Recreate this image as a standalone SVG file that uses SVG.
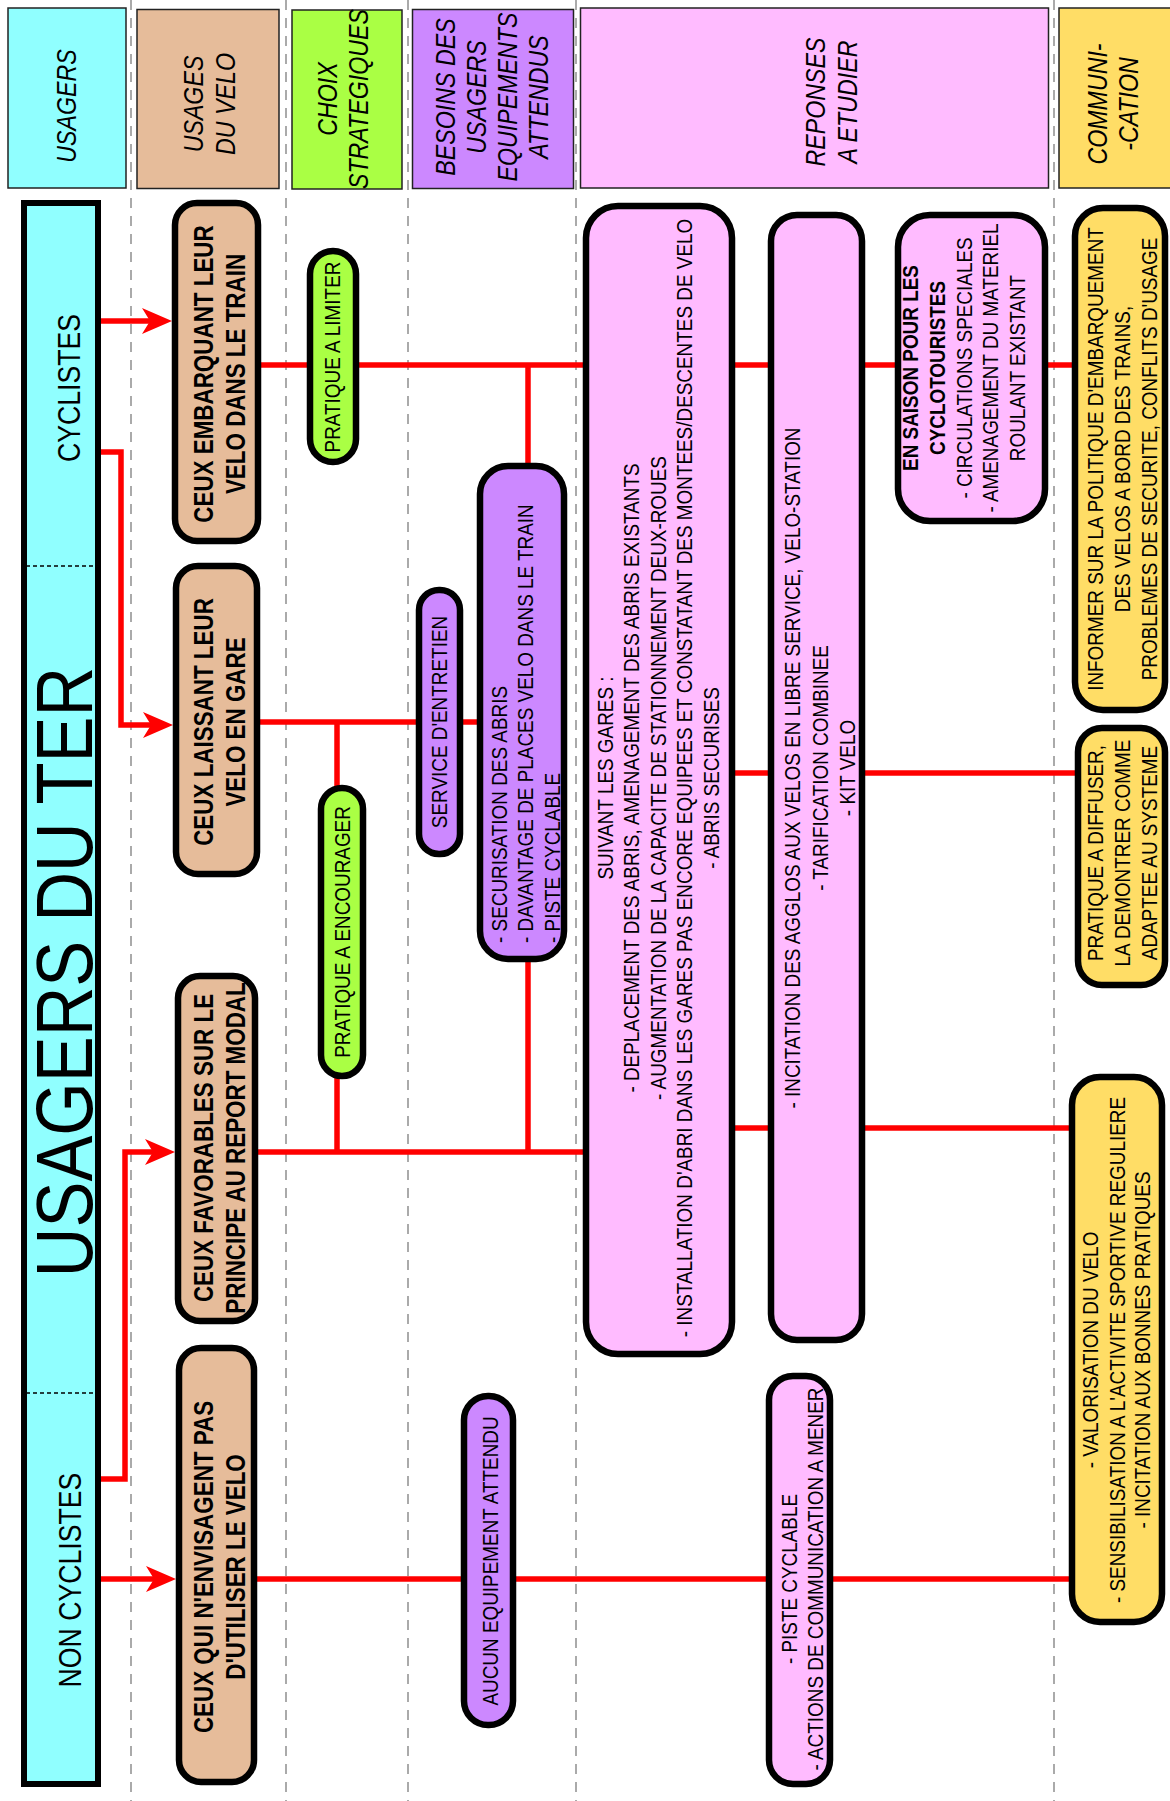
<svg xmlns="http://www.w3.org/2000/svg" width="1170" height="1801" viewBox="0 0 1170 1801">
<style>
text{font-family:"Liberation Sans",Arial,sans-serif;fill:#000}
.hd{font-size:27px;font-style:italic}
.nb{font-size:27px;font-weight:bold}
.nr{font-size:22px}
.side{font-size:31px}
.hbox{stroke:#222;stroke-width:1.5}
.node{stroke:#000;stroke-width:6.5}
.sep{stroke:#aaa;stroke-width:2;stroke-dasharray:10 8;fill:none}
.con{stroke:#f00;stroke-width:5.5;fill:none}
.cyan{fill:#90ffff}.tan{fill:#e6bc9a}.green{fill:#aaff44}.purple{fill:#cc88ff}.pink{fill:#ffbbff}.yellow{fill:#ffdd66}
</style>
<defs>
<marker id="arr" markerUnits="userSpaceOnUse" markerWidth="30" markerHeight="28" viewBox="0 0 30 28" refX="8" refY="14" orient="auto">
<path d="M0,1 L30,14 L0,27 L8,14 Z" fill="#f00"/>
</marker>
</defs>
<rect width="1170" height="1801" fill="#fff"/>
<g id="separators">
<line class="sep" x1="131" y1="0" x2="131" y2="1801"/>
<line class="sep" x1="286" y1="0" x2="286" y2="1801"/>
<line class="sep" x1="408" y1="0" x2="408" y2="1801"/>
<line class="sep" x1="576" y1="0" x2="576" y2="1801"/>
<line class="sep" x1="1054" y1="0" x2="1054" y2="1801"/>
</g>
<g id="headers">
<g id="h-usagers"><rect class="hbox cyan" x="8" y="8" width="118" height="180"/>
<g transform="translate(0,106) rotate(-90) scale(0.86,1)"><text class="hd" text-anchor="middle"><tspan x="0" y="76">USAGERS</tspan></text></g></g>
<g id="h-usages"><rect class="hbox tan" x="137" y="9.5" width="142" height="179"/>
<g transform="translate(0,104) rotate(-90) scale(0.86,1)"><text class="hd" text-anchor="middle"><tspan x="0" y="203">USAGES</tspan><tspan x="0" y="235">DU VELO</tspan></text></g></g>
<g id="h-choix"><rect class="hbox green" x="292" y="10" width="110" height="179"/>
<g transform="translate(0,99) rotate(-90) scale(0.86,1)"><text class="hd" text-anchor="middle"><tspan x="0" y="337">CHOIX</tspan><tspan x="0" y="368">STRATEGIQUES</tspan></text></g></g>
<g id="h-besoins"><rect class="hbox purple" x="412.5" y="9.5" width="161" height="179"/>
<g transform="translate(0,97) rotate(-90) scale(0.86,1)"><text class="hd" text-anchor="middle"><tspan x="0" y="455">BESOINS DES</tspan><tspan x="0" y="486">USAGERS</tspan><tspan x="0" y="517">EQUIPEMENTS</tspan><tspan x="0" y="548">ATTENDUS</tspan></text></g></g>
<g id="h-reponses"><rect class="hbox pink" x="580.5" y="8" width="468" height="180"/>
<g transform="translate(0,102) rotate(-90) scale(0.86,1)"><text class="hd" text-anchor="middle"><tspan x="0" y="825">REPONSES</tspan><tspan x="0" y="857">A ETUDIER</tspan></text></g></g>
<g id="h-communication"><rect class="hbox yellow" x="1059" y="8" width="120" height="180"/>
<g transform="translate(0,104) rotate(-90) scale(0.86,1)"><text class="hd" text-anchor="middle"><tspan x="0" y="1107">COMMUNI-</tspan><tspan x="0" y="1138">-CATION</tspan></text></g></g>
</g>
<g id="usagers-ter">
<rect class="cyan" x="24" y="203" width="74" height="1581" stroke="#000" stroke-width="6"/>
<line x1="26" y1="566" x2="95" y2="566" stroke="#000" stroke-width="1.5" stroke-dasharray="4 3"/>
<line x1="26" y1="1393" x2="95" y2="1393" stroke="#000" stroke-width="1.5" stroke-dasharray="4 3"/>
<g transform="translate(0,388) rotate(-90) scale(0.86,1)"><text class="side" text-anchor="middle"><tspan x="0" y="80">CYCLISTES</tspan></text></g>
<g transform="translate(0,972) rotate(-90) scale(0.86,1)"><text text-anchor="middle" font-size="80"><tspan x="0" y="92">USAGERS DU TER</tspan></text></g>
<g transform="translate(0,1580) rotate(-90) scale(0.86,1)"><text class="side" text-anchor="middle"><tspan x="0" y="81">NON CYCLISTES</tspan></text></g>
</g>
<g id="connectors">
<path class="con" d="M101,321 H150" marker-end="url(#arr)"/>
<path class="con" d="M101,452 H121 V725 H151" marker-end="url(#arr)"/>
<path class="con" d="M101,1479 H125 V1152 H153" marker-end="url(#arr)"/>
<path class="con" d="M101,1579 H154" marker-end="url(#arr)"/>
<path class="con" d="M261,365 H1072"/>
<path class="con" d="M528,365 V1152"/>
<path class="con" d="M260,722 H477"/>
<path class="con" d="M337,722 V1152"/>
<path class="con" d="M258,1152 H583"/>
<path class="con" d="M735,773 H1075"/>
<path class="con" d="M735,1128 H1069"/>
<path class="con" d="M257,1579 H1069"/>
</g>
<g id="n-embarquant"><rect class="node tan" x="175" y="203" width="83" height="338" rx="22"/>
<g transform="translate(0,374) rotate(-90) scale(0.83,1)"><text class="nb" text-anchor="middle"><tspan x="0" y="213">CEUX EMBARQUANT LEUR</tspan><tspan x="0" y="245">VELO DANS LE TRAIN</tspan></text></g></g>
<g id="n-laissant"><rect class="node tan" x="176" y="566" width="81" height="308" rx="22"/>
<g transform="translate(0,722) rotate(-90) scale(0.83,1)"><text class="nb" text-anchor="middle"><tspan x="0" y="213">CEUX LAISSANT LEUR</tspan><tspan x="0" y="245">VELO EN GARE</tspan></text></g></g>
<g id="n-favorables"><rect class="node tan" x="178" y="976" width="77" height="345" rx="22"/>
<g transform="translate(0,1148) rotate(-90) scale(0.83,1)"><text class="nb" text-anchor="middle"><tspan x="0" y="213">CEUX FAVORABLES SUR LE</tspan><tspan x="0" y="245">PRINCIPE AU REPORT MODAL</tspan></text></g></g>
<g id="n-nonenvisagent"><rect class="node tan" x="179" y="1348" width="75" height="434" rx="22"/>
<g transform="translate(0,1567) rotate(-90) scale(0.83,1)"><text class="nb" text-anchor="middle"><tspan x="0" y="213">CEUX QUI N'ENVISAGENT PAS</tspan><tspan x="0" y="245">D'UTILISER LE VELO</tspan></text></g></g>
<g id="n-limiter"><rect class="node green" x="310" y="251" width="46" height="211" rx="23"/>
<g transform="translate(0,357) rotate(-90) scale(0.86,1)"><text class="nr" text-anchor="middle"><tspan x="0" y="340">PRATIQUE A LIMITER</tspan></text></g></g>
<g id="n-encourager"><rect class="node green" x="321" y="788" width="42" height="288" rx="21"/>
<g transform="translate(0,932) rotate(-90) scale(0.86,1)"><text class="nr" text-anchor="middle"><tspan x="0" y="350">PRATIQUE A ENCOURAGER</tspan></text></g></g>
<g id="n-entretien"><rect class="node purple" x="419" y="590" width="41" height="264" rx="20"/>
<g transform="translate(0,722) rotate(-90) scale(0.86,1)"><text class="nr" text-anchor="middle"><tspan x="0" y="447">SERVICE D'ENTRETIEN</tspan></text></g></g>
<g id="n-securisation"><rect class="node purple" x="480" y="466" width="84" height="493" rx="28"/>
<g transform="translate(0,943) rotate(-90) scale(0.86,1)"><text class="nr"><tspan x="0" y="507">- SECURISATION DES ABRIS</tspan><tspan x="0" y="533">- DAVANTAGE DE PLACES VELO DANS LE TRAIN</tspan><tspan x="0" y="560">- PISTE CYCLABLE</tspan></text></g></g>
<g id="n-aucun"><rect class="node purple" x="464" y="1396" width="49" height="329" rx="24"/>
<g transform="translate(0,1561) rotate(-90) scale(0.86,1)"><text class="nr" text-anchor="middle"><tspan x="0" y="498">AUCUN EQUIPEMENT ATTENDU</tspan></text></g></g>
<g id="n-gares"><rect class="node pink" x="586" y="206" width="146" height="1148" rx="32"/>
<g transform="translate(0,778) rotate(-90) scale(0.86,1)"><text class="nr" text-anchor="middle"><tspan x="0" y="613">SUIVANT LES GARES :</tspan><tspan x="0" y="639.5">- DEPLACEMENT DES ABRIS, AMENAGEMENT DES ABRIS EXISTANTS</tspan><tspan x="0" y="666">- AUGMENTATION DE LA CAPACITE DE STATIONNEMENT DEUX-ROUES</tspan><tspan x="0" y="692.5">- INSTALLATION D'ABRI DANS LES GARES PAS ENCORE EQUIPEES ET CONSTATANT DES MONTEES/DESCENTES DE VELO</tspan><tspan x="0" y="719">- ABRIS SECURISES</tspan></text></g></g>
<g id="n-incitation"><rect class="node pink" x="771" y="215" width="91" height="1125" rx="26"/>
<g transform="translate(0,768) rotate(-90) scale(0.86,1)"><text class="nr" text-anchor="middle"><tspan x="0" y="800">- INCITATION DES AGGLOS AUX VELOS EN LIBRE SERVICE, VELO-STATION</tspan><tspan x="0" y="828">- TARIFICATION COMBINEE</tspan><tspan x="0" y="855">- KIT VELO</tspan></text></g></g>
<g id="n-saison"><rect class="node pink" x="898" y="215" width="147" height="306" rx="32"/>
<g transform="translate(0,368) rotate(-90) scale(0.86,1)"><text class="nr" text-anchor="middle"><tspan x="0" y="918" font-weight="bold">EN SAISON POUR LES</tspan><tspan x="0" y="945" font-weight="bold">CYCLOTOURISTES</tspan><tspan x="0" y="972">- CIRCULATIONS SPECIALES</tspan><tspan x="0" y="998">- AMENAGEMENT DU MATERIEL</tspan><tspan x="0" y="1025">ROULANT EXISTANT</tspan></text></g></g>
<g id="n-piste"><rect class="node pink" x="769" y="1376" width="61" height="408" rx="24"/>
<g transform="translate(0,1579) rotate(-90) scale(0.86,1)"><text class="nr" text-anchor="middle"><tspan x="0" y="797">- PISTE CYCLABLE</tspan><tspan x="0" y="823">- ACTIONS DE COMMUNICATION A MENER</tspan></text></g></g>
<g id="n-informer"><rect class="node yellow" x="1075" y="208" width="90" height="502" rx="28"/>
<g transform="translate(0,459) rotate(-90) scale(0.86,1)"><text class="nr" text-anchor="middle"><tspan x="0" y="1103">INFORMER SUR LA POLITIQUE D'EMBARQUEMENT</tspan><tspan x="0" y="1130">DES VELOS A BORD DES TRAINS,</tspan><tspan x="0" y="1157">PROBLEMES DE SECURITE, CONFLITS D'USAGE</tspan></text></g></g>
<g id="n-diffuser"><rect class="node yellow" x="1078" y="728" width="87" height="257" rx="24"/>
<g transform="translate(0,853) rotate(-90) scale(0.86,1)"><text class="nr" text-anchor="middle"><tspan x="0" y="1103">PRATIQUE A DIFFUSER,</tspan><tspan x="0" y="1130">LA DEMONTRER COMME</tspan><tspan x="0" y="1157">ADAPTEE AU SYSTEME</tspan></text></g></g>
<g id="n-valorisation"><rect class="node yellow" x="1072" y="1077" width="90" height="545" rx="28"/>
<g transform="translate(0,1350) rotate(-90) scale(0.86,1)"><text class="nr" text-anchor="middle"><tspan x="0" y="1098">- VALORISATION DU VELO</tspan><tspan x="0" y="1125">- SENSIBILISATION A L'ACTIVITE SPORTIVE REGULIERE</tspan><tspan x="0" y="1150">- INCITATION AUX BONNES PRATIQUES</tspan></text></g></g>
</svg>
